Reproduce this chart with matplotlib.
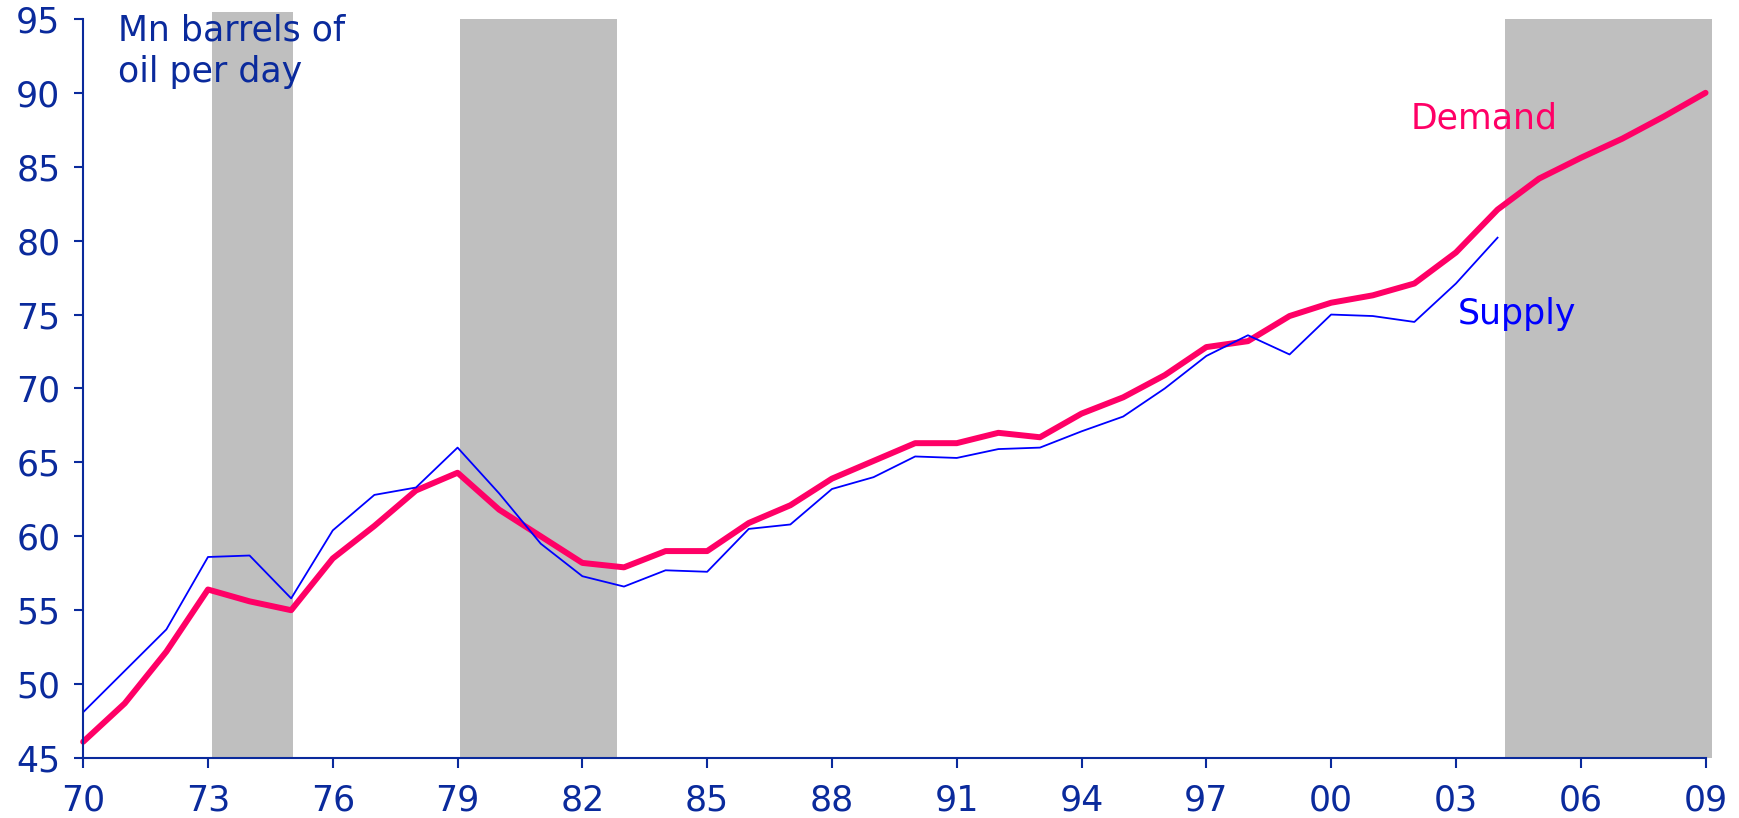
import numpy as np
import matplotlib as mpl
mpl.use('Agg')
import matplotlib.pyplot as plt

mpl.rcParams.update({'font.family': 'DejaVu Sans', 'font.size': 25})

# ---- data ----
years = np.arange(1970, 2010)
demand = [46.1, 48.7, 52.2, 56.4, 55.6, 55.0, 58.5, 60.7, 63.1, 64.3,
          61.8, 60.0, 58.2, 57.9, 59.0, 59.0, 60.9, 62.1, 63.9, 65.1,
          66.3, 66.3, 67.0, 66.7, 68.3, 69.4, 70.9, 72.8, 73.2, 74.9,
          75.8, 76.3, 77.1, 79.2, 82.1, 84.2, 85.6, 86.9, 88.4, 90.0]
supply_years = np.arange(1970, 2005)
supply = [48.1, 50.9, 53.7, 58.6, 58.7, 55.8, 60.4, 62.8, 63.3, 66.0,
          62.9, 59.5, 57.3, 56.6, 57.7, 57.6, 60.5, 60.8, 63.2, 64.0,
          65.4, 65.3, 65.9, 66.0, 67.1, 68.1, 70.0, 72.2, 73.6, 72.3,
          75.0, 74.9, 74.5, 77.1, 80.2]
shade_start = [1973.1, 1979.05, 2004.18]
shade_end = [1975.05, 1982.83, 2009.15]
shade_top = [95.47, 95.0, 95.0]
xtick_years = np.arange(1970, 2010, 3)
xtick_labels = [f'{y % 100:02d}' for y in xtick_years]

NAVY = '#0a2a9c'
PINK = '#ff0066'
BLUE = '#0000ff'
GRAY = '#bfbfbf'

fig = plt.figure(figsize=(17.4, 8.18), dpi=100)
ax = fig.add_axes([0.0478, 0.0733, 0.9324, 0.9036])

# shaded periods (the last one runs a little past the axis end)
for x0, x1, top in zip(shade_start, shade_end, shade_top):
    ax.fill_between([x0, x1], 45, top, color=GRAY, lw=0, zorder=1, clip_on=False)

ax.plot(years, demand, color=PINK, lw=4.3, zorder=3, solid_capstyle='round',
        solid_joinstyle='round', clip_on=False)
ax.plot(supply_years, supply, color=BLUE, lw=1.3, zorder=4)

ax.text(2001.9, 87.6, 'Demand', color=PINK, va='baseline', zorder=5)
ax.text(2003.05, 74.35, 'Supply', color=BLUE, va='baseline', zorder=5)
ax.text(1970.83, 93.57, 'Mn barrels of', color=NAVY, va='baseline', zorder=5)
ax.text(1970.83, 90.75, 'oil per day', color=NAVY, va='baseline', zorder=5)

ax.set_xlim(1970, 2009)
ax.set_ylim(45, 95)
ax.set_yticks(np.arange(45, 96, 5))
ax.set_xticks(xtick_years)
ax.set_xticklabels(xtick_labels)

for s in ('top', 'right'):
    ax.spines[s].set_visible(False)
for s in ('left', 'bottom'):
    ax.spines[s].set_color(NAVY)
    ax.spines[s].set_linewidth(1.5)
    ax.spines[s].set_zorder(6)
ax.tick_params(axis='both', colors=NAVY, labelcolor=NAVY, width=1.5,
               direction='out', labelsize=25)
ax.tick_params(axis='y', length=6.5, pad=10)
ax.tick_params(axis='x', length=7.5, pad=11)

fig.savefig('out.png', dpi=100)
